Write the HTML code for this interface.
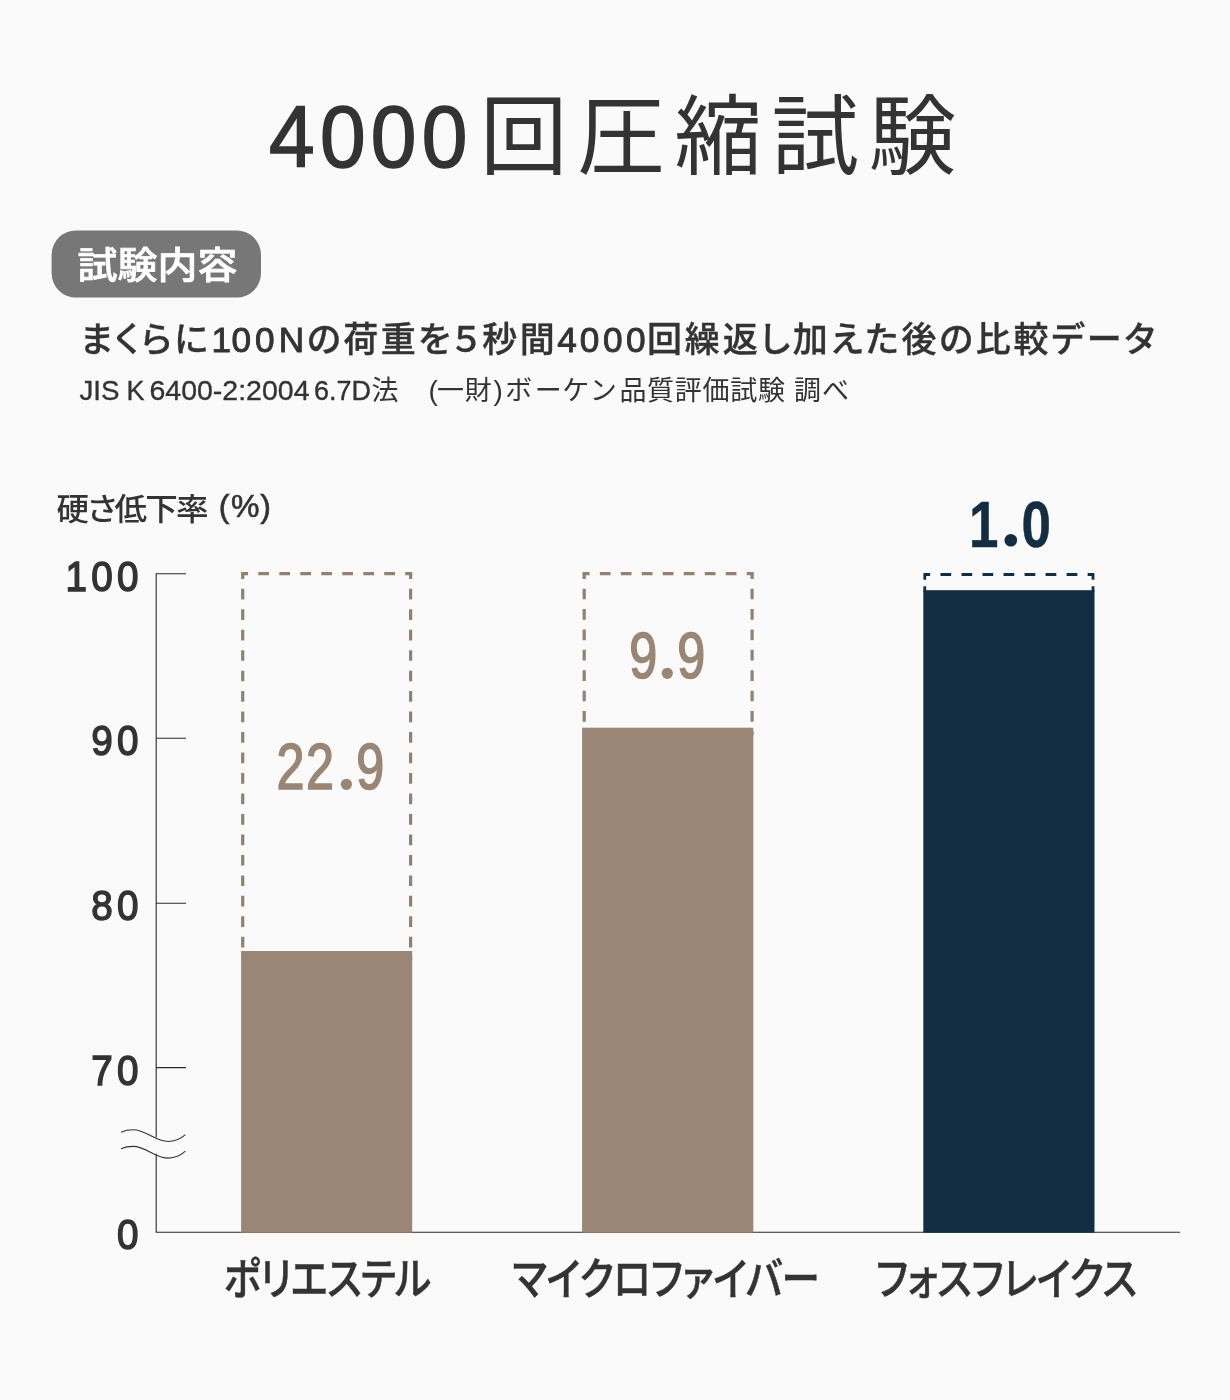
<!DOCTYPE html>
<html lang="ja">
<head>
<meta charset="utf-8">
<title>4000回圧縮試験</title>
<style>
html,body{margin:0;padding:0;background:#fafafa;}
body{width:1230px;height:1400px;overflow:hidden;position:relative;font-family:"Liberation Sans","Noto Sans CJK JP",sans-serif;}
svg{position:absolute;left:0;top:0;display:block;}
text{font-family:"Liberation Sans","Noto Sans CJK JP",sans-serif;fill:#333;}
.jp{font-family:"Liberation Sans","Noto Sans CJK JP",sans-serif;}
.m{font-weight:500;}
.b{font-weight:700;}
</style>
</head>
<body>
<svg width="1230" height="1400" viewBox="0 0 1230 1400">
<rect x="0" y="0" width="1230" height="1400" fill="#fafafa"/>

<!-- title -->
<text id="title" y="168" font-size="87"><tspan id="t-num" x="269" y="167.2" font-size="87.3" stroke="#333" stroke-width="1.6" letter-spacing="5.6" textLength="203.6" lengthAdjust="spacingAndGlyphs">4000</tspan><tspan id="t-jp" x="480" y="167.6" font-size="87.4" letter-spacing="9.8">回圧縮試験</tspan></text>

<!-- pill -->
<rect x="51.6" y="230.4" width="209.4" height="67.2" rx="24.5" ry="24.5" fill="#777"/>
<text id="pill" class="m" transform="translate(77.6 279.2) scale(1.08 1)" x="0" y="0" font-size="37" stroke="#fff" stroke-width="0.7" style="fill:#fff">試験内容</text>

<!-- description -->
<text id="desc" class="m" y="352" font-size="35" letter-spacing="2.5" stroke="#333" stroke-width="0.35" style="font-feature-settings:'palt' 1"><tspan id="d1" x="80.2">まくらに</tspan><tspan id="d2" x="211.5 231.5 255 278.8" y="351.6" font-size="35.2" font-weight="400" stroke-width="0.9" letter-spacing="3">100N</tspan><tspan id="d3" x="307" y="352">の荷重を５秒間</tspan><tspan id="d4" x="557.3 579.8 603 626" y="351.6" font-size="35.2" font-weight="400" stroke-width="0.9" letter-spacing="3">4000</tspan><tspan id="d5" x="647" y="352" letter-spacing="2.82">回繰返し加えた後の比較データ</tspan></text>
<text id="note" y="400" font-size="27" letter-spacing="0.7" style="font-feature-settings:'palt' 1"><tspan id="n1" stroke="#333" stroke-width="0.35" x="79.5" font-size="27.5" letter-spacing="0" textLength="40" lengthAdjust="spacingAndGlyphs">JIS</tspan><tspan id="nsp1" font-size="10" letter-spacing="0"> </tspan><tspan id="n2" stroke="#333" stroke-width="0.35" x="126.5" font-size="27.5" letter-spacing="0" textLength="18" lengthAdjust="spacingAndGlyphs">K</tspan><tspan font-size="10" letter-spacing="0"> </tspan><tspan id="n3" stroke="#333" stroke-width="0.35" x="149.5" font-size="27.5" letter-spacing="0" textLength="160" lengthAdjust="spacingAndGlyphs">6400-2:2004</tspan><tspan font-size="10" letter-spacing="0"> </tspan><tspan id="n4" stroke="#333" stroke-width="0.35" x="314" font-size="27.5" letter-spacing="0" textLength="57" lengthAdjust="spacingAndGlyphs">6.7D</tspan><tspan id="n5" x="371.5">法　</tspan><tspan id="n6a" x="428.5" y="399.5" font-size="28">(</tspan><tspan id="n6b" x="437" y="399.5">一財</tspan><tspan id="n6c" x="493.5" y="399.5" font-size="28">)</tspan><tspan id="n7" x="505" y="400" dx="0.3 3 0.3 3.4 3.5">ボーケン品質評価試験</tspan><tspan font-size="10" letter-spacing="0"> </tspan><tspan id="n8" x="794">調べ</tspan></text>

<!-- axis title -->
<text id="ytitle" class="m" transform="translate(56.6 520) scale(1.05 1)" y="0" font-size="31" letter-spacing="-1.7" style="font-feature-settings:'palt' 1"><tspan id="yt1" x="0">硬さ低下率</tspan><tspan font-size="8" letter-spacing="0"> </tspan><tspan id="yunit" x="154.4 166.1 193.9" y="-2.7" font-size="30.5" font-weight="400" stroke="#333" stroke-width="0.6" letter-spacing="0">(%)</tspan></text>

<!-- dashed outlines -->
<g fill="none" stroke="#93816f" stroke-width="3.2">
<path d="M242.7 573.6V960" stroke-dasharray="10.7 9.776" stroke-dashoffset="5.35"/>
<path d="M410.6 573.6V960" stroke-dasharray="10.7 9.776" stroke-dashoffset="5.35"/>
<path d="M584.2 573.6V735" stroke-dasharray="10.7 9.7" stroke-dashoffset="5.35"/>
<path d="M752.1 573.6V735" stroke-dasharray="10.7 9.7" stroke-dashoffset="5.35"/>
<path d="M242.7 573.6H410.6" stroke-dasharray="10.7 10.2875" stroke-dashoffset="5.35"/>
<path d="M584.2 573.6H752.1" stroke-dasharray="10.7 10.2875" stroke-dashoffset="5.35"/>
</g>
<g fill="#93816f">
<rect x="241.1" y="572" width="3.2" height="3.2"/>
<rect x="409" y="572" width="3.2" height="3.2"/>
<rect x="582.6" y="572" width="3.2" height="3.2"/>
<rect x="750.5" y="572" width="3.2" height="3.2"/>
</g>
<g fill="none" stroke="#132e43" stroke-width="2.8">
<path d="M924.8 574.5H1093" stroke-dasharray="10.7 10.325" stroke-dashoffset="5.35"/>
<path d="M924.8 573V579.7M924.8 586.3V592M1093 573V579.7M1093 586.3V592"/>
</g>

<!-- axes -->
<g fill="none" stroke="#2a2a2a" stroke-width="1.1">
<path d="M186 573.7H156.2V1137.4M156.2 1153.8V1232.2H1180"/>
<path d="M156.2 738.3H186M156.2 903.2H186M156.2 1067.6H186"/>
</g>
<!-- bars -->
<rect x="241.1" y="951" width="171.1" height="281.7" fill="#998675"/>
<rect x="582.1" y="727.7" width="171.2" height="505" fill="#998675"/>
<rect x="923.3" y="590.2" width="171.2" height="642.5" fill="#132e43"/>

<!-- break mark -->
<g fill="none" stroke="#333" stroke-width="1.1">
<path d="M121 1132.2C125 1130.4 129 1129.8 133.2 1129.8C146 1129.8 155 1141.5 168.3 1141.5C175 1141.5 181 1138.5 185.4 1134.6"/>
<path d="M121 1148.8C125 1147 129 1146.4 133.2 1146.4C146 1146.4 155 1158.1 168.3 1158.1C175 1158.1 181 1155.1 185.4 1151.2"/>
</g>

<!-- axis labels -->
<g font-size="43.2" text-anchor="end" stroke="#333" stroke-width="1.5" letter-spacing="4.7">
<text id="y100" transform="translate(142.7 590.7) scale(0.896 1)" x="0" y="0">100</text>
<text id="y90" transform="translate(142.7 755.3) scale(0.896 1)" x="0" y="0">90</text>
<text id="y80" transform="translate(142.7 920.2) scale(0.896 1)" x="0" y="0">80</text>
<text id="y70" transform="translate(142.7 1084.6) scale(0.896 1)" x="0" y="0">70</text>
<text id="y0" transform="translate(142.7 1249.3) scale(0.896 1)" x="0" y="0">0</text>
</g>

<!-- values -->
<g font-size="64.5" stroke="#998675" stroke-width="1.7" stroke-linejoin="round">
<text id="v1" transform="translate(276.4 789.3) scale(0.78 1)" x="0 38 85.6 102.3" y="0" style="fill:#998675">22<tspan font-size="34" stroke="none" dy="-3.4">.</tspan><tspan dy="3.4">9</tspan></text>
<text id="v2" transform="translate(629.2 678.3) scale(0.78 1)" x="0 44.7 61.5" y="0" style="fill:#998675">9<tspan font-size="34" stroke="none" dy="-3.4">.</tspan><tspan dy="3.4">9</tspan></text>
</g>
<text id="v3" class="b" transform="translate(969 546.5) scale(0.815 1)" x="0 46.5 64.5" y="0" font-size="65" stroke="#132e43" stroke-width="0.5" stroke-linejoin="round" style="fill:#132e43">1<tspan font-size="34" stroke="none" dy="-3.6">.</tspan><tspan dy="3.6">0</tspan></text>
<circle cx="346.4" cy="784.3" r="5.6" fill="#998675"/>
<circle cx="667.3" cy="673.3" r="5.6" fill="#998675"/>
<circle cx="1010.8" cy="540.3" r="6.3" fill="#132e43"/>

<!-- categories -->
<g class="m" font-size="44.5" letter-spacing="-0.5" stroke="#333" stroke-width="0.45" stroke-linejoin="miter" style="font-feature-settings:'palt' 1">
<text id="c1" transform="translate(223.6 1295) scale(0.866 1)" x="0" y="0" letter-spacing="-0.85">ポリエステル</text>
<text id="c2" transform="translate(512.5 1295) scale(0.866 1)" x="0" y="0">マイクロファイバー</text>
<text id="c3" transform="translate(875.8 1295) scale(0.866 1)" x="0" y="0">フォスフレイクス</text>
</g>
</svg>
</body>
</html>
